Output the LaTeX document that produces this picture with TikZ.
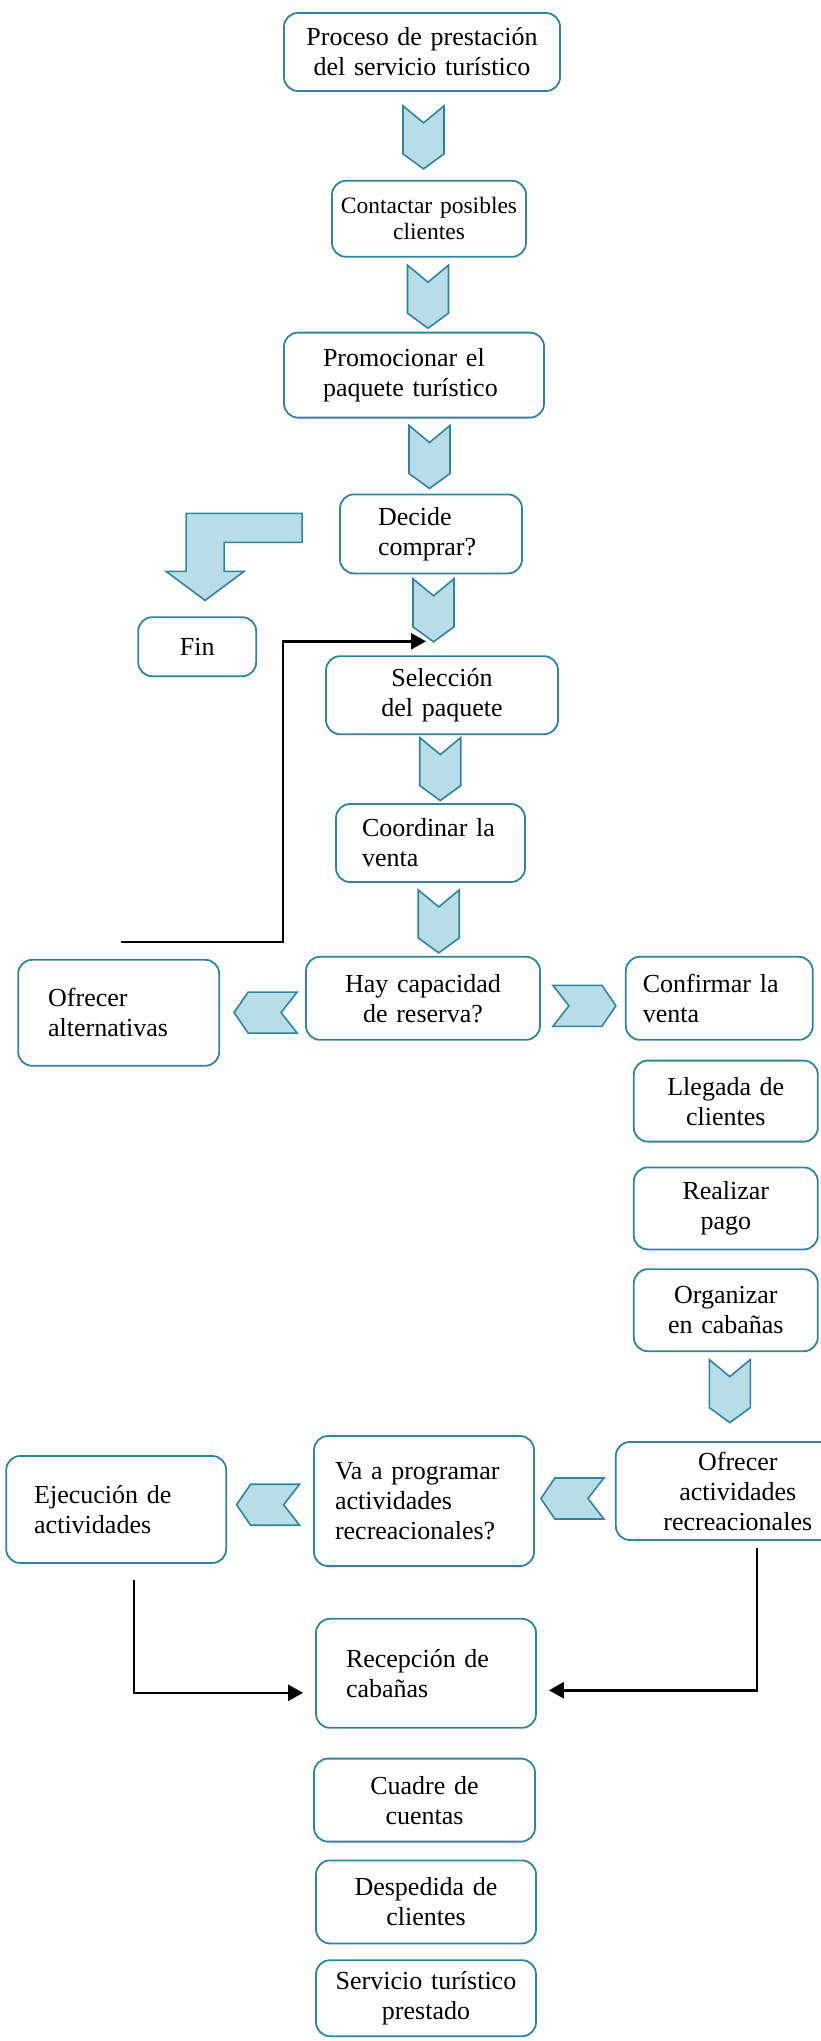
\documentclass[tikz,border=0pt]{standalone}
\usepackage{fontspec}
\setmainfont{Liberation Serif}
\usepackage{tikz}
\usetikzlibrary{positioning, calc, arrows.meta}
\definecolor{borde}{HTML}{31849B}
\definecolor{relleno}{HTML}{B7DDE8}

\tikzset{
  caja/.style={draw=borde, line width=1.8pt, rounded corners=14pt, align=center, inner xsep=0pt, inner ysep=2pt, font=\fontsize{26}{30}\selectfont},
  cajaizq/.style={caja, align=left, inner xsep=#1},
  chev/.style={draw=borde, fill=relleno, line width=1.6pt, line join=miter},
  flecha/.style={draw=black, line width=2.5pt, -{Triangle[length=15pt,width=16pt]}},
  bajada/.pic={\draw[chev] (-20.5pt,31.5pt) -- (0,14.5pt) -- (20.5pt,31.5pt) -- (20.5pt,-16.5pt) -- (0,-31.5pt) -- (-20.5pt,-16.5pt) -- cycle;},
  haciaizq/.pic={\draw[chev] (31.5pt,20.5pt) -- (-17.5pt,20.5pt) -- (-31.5pt,0) -- (-17.5pt,-20.5pt) -- (31.5pt,-20.5pt) -- (15.5pt,0) -- cycle;},
  haciader/.pic={\draw[chev] (-31.5pt,20.5pt) -- (17.5pt,20.5pt) -- (31.5pt,0) -- (17.5pt,-20.5pt) -- (-31.5pt,-20.5pt) -- (-15.5pt,0) -- cycle;}
}

\begin{document}
\begin{tikzpicture}
	\useasboundingbox (0,0) rectangle (820pt,-2041pt);
	\node[caja, text width=276pt, minimum height=78pt] (proceso) at (422pt,-52pt) {Proceso de prestación\\del servicio turístico};
	\node[caja, text width=194pt, minimum height=76pt, font=\fontsize{23.5}{26}\selectfont, below=88pt of proceso, xshift=7pt] (contactar) {Contactar posibles\\clientes};
	\node[cajaizq=39pt, text width=182pt, minimum height=85pt, below=74pt of contactar, xshift=-15pt] (promo) {Promocionar el\\paquete turístico};
	\node[cajaizq=38pt, text width=106pt, minimum height=79pt, below=75pt of promo, xshift=17pt] (decide) {Decide\\comprar?};
	\node[caja, text width=232pt, minimum height=78pt, below=81pt of decide, xshift=11pt] (seleccion) {Selección\\del paquete};
	\node[caja, text width=118pt, minimum height=59pt, left=68pt of seleccion, yshift=48.5pt] (fin) {Fin};
	\node[cajaizq=26pt, text width=137pt, minimum height=78pt, below=68pt of seleccion, xshift=-11.5pt] (coordinar) {Coordinar la\\venta};
	\node[caja, text width=234pt, minimum height=83pt, below=73pt of coordinar, xshift=-7.5pt] (hay) {Hay capacidad\\de reserva?};
	\node[cajaizq=30pt, text width=141pt, minimum height=106pt, left=85pt of hay, yshift=-14.5pt] (alternativas) {Ofrecer\\alternativas};
	\node[cajaizq=17pt, text width=153pt, minimum height=83pt, right=84pt of hay] (confirmar) {Confirmar la\\venta};
	\node[caja, text width=184pt, minimum height=81pt, below=19pt of confirmar, xshift=6.5pt] (llegada) {Llegada de\\clientes};
	\node[caja, text width=184pt, minimum height=82pt, below=24pt of llegada] (realizar) {Realizar\\pago};
	\node[caja, text width=184pt, minimum height=82pt, below=18pt of realizar] (organizar) {Organizar\\en cabañas};
	\node[caja, text width=244pt, minimum height=98pt, below=89pt of organizar, xshift=12pt] (ofreceract) {Ofrecer\\actividades\\recreacionales};
	\node[cajaizq=21pt, text width=178pt, minimum height=130pt, left=80pt of ofreceract, yshift=-10pt] (vaprog) {Va a programar\\actividades\\recreacionales?};
	\node[cajaizq=28pt, text width=164pt, minimum height=107pt, left=86pt of vaprog, yshift=-8.5pt] (ejecucion) {Ejecución de\\actividades};
	\node[cajaizq=30pt, text width=160pt, minimum height=109pt, below=51pt of vaprog, xshift=2pt] (recepcion) {Recepción de\\cabañas};
	\node[caja, text width=221pt, minimum height=83pt, below=29pt of recepcion, xshift=-1.5pt] (cuadre) {Cuadre de\\cuentas};
	\node[caja, text width=220pt, minimum height=83pt, below=17pt of cuadre, xshift=1.5pt] (despedida) {Despedida de\\clientes};
	\node[caja, text width=220pt, minimum height=76pt, below=15pt of despedida] (servicio) {Servicio turístico\\prestado};

	\pic[xshift=-2pt, yshift=-1.5pt] at ($(proceso.south)!.5!(contactar.north)$) {bajada};
	\pic[xshift=6.5pt, yshift=-2pt] at ($(contactar.south)!.5!(promo.north)$) {bajada};
	\pic[xshift=7pt, yshift=-1pt] at ($(promo.south)!.5!(decide.north)$) {bajada};
	\pic[xshift=-3pt, yshift=4.5pt] at ($(decide.south)!.5!(seleccion.north)$) {bajada};
	\pic[xshift=4pt] at ($(seleccion.south)!.5!(coordinar.north)$) {bajada};
	\pic[xshift=12pt, yshift=-2pt] at ($(coordinar.south)!.5!(hay.north)$) {bajada};
	\pic[xshift=-2pt, yshift=5.5pt] at ($(organizar.south)!.5!(ofreceract.north)$) {bajada};
	\pic[xshift=3pt, yshift=-7pt] at ($(hay.west)!.5!(alternativas.east)$) {haciaizq};
	\pic[xshift=1.5pt, yshift=-7.5pt] at ($(hay.east)!.5!(confirmar.west)$) {haciader};
	\pic[xshift=-2.5pt, yshift=-2.5pt] at ($(ofreceract.west)!.5!(vaprog.east)$) {haciaizq};
	\pic[xshift=-2pt, yshift=0.5pt] at ($(vaprog.west)!.5!(ejecucion.east)$) {haciaizq};
	\draw[chev] ([shift={(-37pt,20.5pt)}]decide.west) -- ++(-116pt,0) -- ++(0,-58pt) -- ++(-20pt,0) -- ++(39pt,-29pt) -- ++(39pt,29pt) -- ++(-20pt,0) -- ++(0,29pt) -- ++(78pt,0) -- cycle;

	\coordinate (retorno) at ([xshift=-16pt, yshift=14pt]seleccion.north);
	\draw[flecha] ([xshift=2.5pt, yshift=17pt]alternativas.north) -| ([xshift=-143pt]retorno) -- (retorno);
	\draw[flecha] ([xshift=19pt, yshift=-7pt]ofreceract.south) |- ([xshift=12pt, yshift=-17pt]recepcion.east);
	\draw[flecha] ([xshift=18pt, yshift=-16pt]ejecucion.south) |- ([xshift=-12pt, yshift=-19.5pt]recepcion.west);
\end{tikzpicture}
\end{document}
